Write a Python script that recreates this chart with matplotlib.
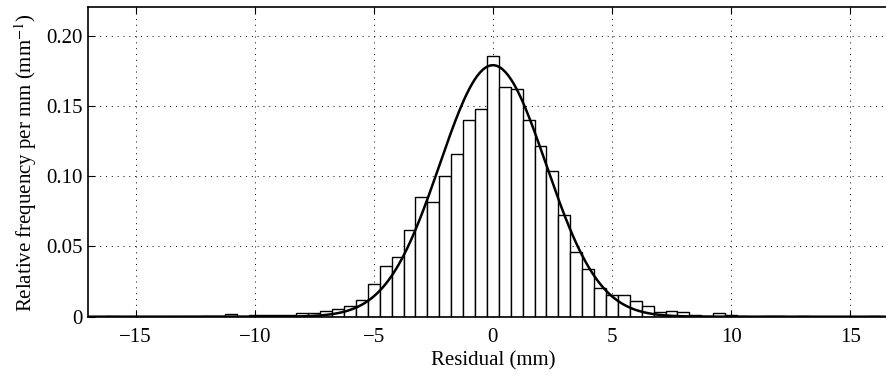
import numpy as np
import matplotlib
matplotlib.use("Agg")
import matplotlib.pyplot as plt

plt.rcParams['font.family'] = ['Liberation Serif', 'DejaVu Serif']
plt.rcParams['mathtext.fontset'] = 'stix'

# histogram of residuals, 0.5 mm bins
bin_centers = [-16.5, -16.0, -15.5, -15.0, -14.5, -14.0, -13.5, -13.0, -12.5, -12.0,
               -11.5, -11.0, -10.5, -10.0, -9.5, -9.0, -8.5, -8.0, -7.5, -7.0,
               -6.5, -6.0, -5.5, -5.0, -4.5, -4.0, -3.5, -3.0, -2.5, -2.0,
               -1.5, -1.0, -0.5, 0.0, 0.5, 1.0, 1.5, 2.0, 2.5, 3.0,
               3.5, 4.0, 4.5, 5.0, 5.5, 6.0, 6.5, 7.0, 7.5, 8.0,
               8.5, 9.0, 9.5, 10.0, 10.5, 11.0, 11.5, 12.0, 12.5, 13.0,
               13.5, 14.0, 14.5, 15.0, 15.5, 16.0, 16.5]
rel_freq = [0.0, 0.0005, 0.0, 0.0, 0.0, 0.0, 0.0, 0.0, 0.0, 0.0005,
            0.0005, 0.0017, 0.0, 0.0010, 0.0012, 0.0012, 0.0012, 0.0026, 0.0026, 0.0038,
            0.0053, 0.0074, 0.0119, 0.0230, 0.0363, 0.0422, 0.0614, 0.0848, 0.0815, 0.1002,
            0.1157, 0.1401, 0.1475, 0.1856, 0.1634, 0.1622, 0.1396, 0.1216, 0.1038, 0.0725,
            0.0462, 0.0337, 0.0207, 0.0156, 0.0151, 0.0112, 0.0075, 0.0036, 0.0038, 0.0032,
            0.0009, 0.0003, 0.0024, 0.0009, 0.0004, 0.0, 0.0004, 0.0004, 0.0, 0.0004,
            0.0, 0.0, 0.0, 0.0, 0.0, 0.0005, 0.0]
bin_width = 0.5

# fitted normal curve
mu = 0.0
sigma = 2.23

xticks = [-15, -10, -5, 0, 5, 10, 15]
yticks = [0, 0.05, 0.10, 0.15, 0.20]
ytick_labels = ['0', '0.05', '0.10', '0.15', '0.20']

fig = plt.figure(figsize=(8.87, 3.79), dpi=100)
ax = fig.add_axes([0.0992, 0.1644, 0.913, 0.816])

ax.bar(bin_centers, rel_freq, width=bin_width, color='white', edgecolor='black',
       linewidth=1.0, zorder=2)

xs = np.linspace(-17, 17, 600)
pdf = np.exp(-0.5 * ((xs - mu) / sigma) ** 2) / (sigma * np.sqrt(2 * np.pi))
ax.plot(xs, pdf, color='black', linewidth=1.8, zorder=3)

ax.set_xlim(-17, 17)
ax.set_ylim(0, 0.22)
ax.set_xticks(xticks)
ax.set_yticks(yticks)
ax.set_yticklabels(ytick_labels)
ax.grid(True, linestyle=(0, (1, 5)), color='black', linewidth=0.7, zorder=0)
ax.set_axisbelow(True)
ax.tick_params(direction='in', top=True, right=True, labelsize=15, length=5)
ax.tick_params(axis='x', pad=8)
ax.tick_params(axis='y', pad=4)
for s in ax.spines.values():
    s.set_linewidth(1.2)

ax.set_xlabel('Residual (mm)', fontsize=15, labelpad=3)
ax.set_ylabel('Relative frequency per mm (mm$^{-1}$)', fontsize=15, labelpad=5)

fig.savefig('out.png', dpi=100)
